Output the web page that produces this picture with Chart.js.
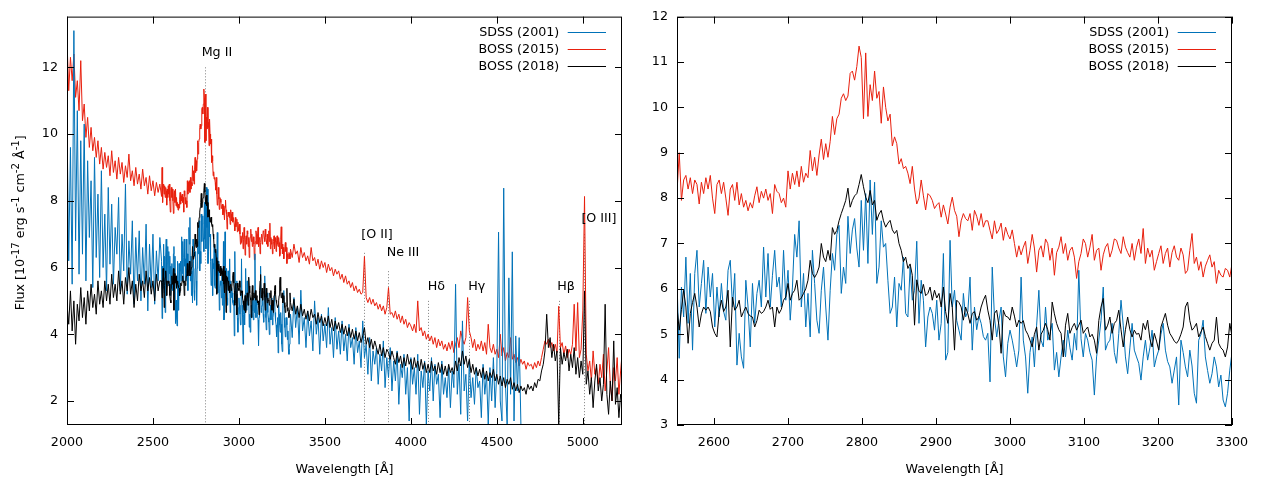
<!DOCTYPE html>
<html><head><meta charset="utf-8">
<script src="https://cdn.jsdelivr.net/npm/chart.js@4.4.1/dist/chart.umd.min.js"></script>
<style>
html,body{margin:0;padding:0;background:#fff;width:1263px;height:490px;overflow:hidden}
canvas{position:absolute;top:0}
#c1{left:0}
#c2{left:632px}
</style></head><body>
<canvas id="c1" width="632" height="490"></canvas>
<canvas id="c2" width="631" height="490"></canvas>
<script>
// ---------------- DATA ----------------
// wavelength grids: [start, step] (Angstrom)
const GRID_A = [2000, 10];
const GRID_B = [2550, 3];
const GRID_C = [3300, 10];

const SERIES_NAMES = ['SDSS (2001)', 'BOSS (2015)', 'BOSS (2018)'];

const RED_A = [12.8,11.3,12.3,11.6,12.4,11.1,11.6,10.7,12.2,10.4,
10.9,9.9,10.5,9.6,10.2,9.5,9.9,9.3,9.8,9.1,
9.6,8.95,9.45,9.0,9.35,8.75,9.5,8.85,9.2,8.65,
9.3,8.8,9.15,8.55,9.05,8.7,9.4,8.6,8.9,8.45,
9.0,8.5,8.8,8.35,8.95,8.45,8.7,8.2,8.75,8.3,
8.6,8.15,8.55,8.25,8.5];
const RED_B = [8.13,9.0,7.95,8.4,8.5,8.2,8.45,8.1,8.4,8.3,
7.87,8.35,8.1,8.45,8.2,8.5,8.0,7.66,8.3,8.4,
8.1,8.35,8.0,7.62,8.2,8.3,7.95,8.35,7.85,8.1,
7.8,7.95,7.72,7.9,7.78,8.05,8.25,7.9,8.15,8.0,
8.2,7.95,8.1,7.66,8.3,8.15,8.1,7.9,8.0,7.8,
8.6,8.2,8.55,8.3,8.6,8.25,8.7,8.35,8.55,8.45,
9.05,8.6,8.9,8.5,8.95,9.3,8.85,9.2,8.9,9.25,
9.8,9.4,9.75,9.85,10.2,10.3,10.15,10.25,10.75,10.8,
10.6,10.9,11.35,11.1,9.75,11.2,9.8,10.5,10.15,10.8,
10.2,10.35,9.65,10.45,10.0,9.7,9.85,9.15,9.35,9.2,
8.75,8.87,8.65,8.7,8.55,8.32,8.7,8.2,7.87,8.0,
8.4,8.05,7.74,8.1,8.05,7.95,7.77,7.85,7.9,7.58,
7.85,7.65,7.43,7.8,8.02,7.73,7.6,7.15,7.5,7.66,
7.55,7.5,7.66,7.29,7.73,7.6,7.4,7.66,7.36,7.5,
7.5,7.29,7.1,7.5,7.22,7.3,7.45,7.07,7.36,7.2,
7.1,7.3,7.0,6.7,6.95,6.75,6.92,7.05,6.56,6.85,
7.2,6.9,6.37,6.85,6.95,6.7,7.1,7.0,6.63,6.9,
6.3,6.8,6.92,7.15,6.78,7.0,6.63,6.85,6.92,6.7,
6.23,6.6,6.78,7.1,7.0,6.7,6.92,7.2,6.63,6.85,
6.9,6.41,6.75,6.92,7.0,6.7,6.85,7.1,7.07,6.9,
6.78,7.15,6.92,6.8,6.7,7.0,6.63,6.92,7.1,6.78,
7.33,6.56,6.9,6.7,6.85,6.41,6.6,6.78,6.95,6.56,
6.78,6.9,6.48,6.8,6.95,6.7,6.63,6.9,6.75,6.34,
6.41,6.85,7.22,6.56,6.7,6.41,6.6,6.26,6.5,6.63,
6.75,6.48,6.6,6.12,6.41,6.3,6.26,6.45,6.41,6.26];
const RED_C = [6.55,6.3,6.7,6.4,6.5,6.15,6.6,6.3,6.45,6.2,
6.35,6.1,6.6,6.2,6.3,6.05,6.25,5.95,6.2,6.0,
6.15,5.85,6.1,5.9,6.0,5.75,5.95,5.8,5.9,5.65,
5.8,5.55,5.75,5.5,5.6,5.4,5.55,5.3,5.45,5.25,
5.35,5.2,5.25,6.33,5.1,4.95,5.1,4.9,5.05,4.85,
4.95,4.75,4.9,4.7,4.85,4.6,4.8,5.4,4.6,4.65,
4.5,4.7,4.45,4.6,4.35,4.55,4.3,4.45,4.2,4.35,
4.25,4.1,4.3,4.05,5.0,4.1,4.2,3.95,4.1,3.85,
4.0,3.8,3.95,3.7,3.9,3.6,3.85,3.65,3.8,3.55,
3.7,3.5,3.75,3.55,3.8,3.45,3.7,3.9,3.6,4.1,
3.85,3.7,3.9,5.1,4.1,3.9,3.6,3.85,3.5,3.7,
3.55,3.8,3.5,3.75,3.4,4.3,3.6,3.45,3.7,3.4,
3.55,3.3,4.0,3.35,3.6,3.2,3.45,3.3,3.9,3.25,
3.4,3.15,3.3,3.05,3.25,3.1,3.2,2.95,3.15,3.05,
3.1,2.95,3.15,3.0,3.2,3.05,3.3,3.55,3.8,3.7,
3.85,3.6,3.75,3.5,3.7,3.45,4.84,3.6,3.75,3.4,
3.65,3.3,3.55,3.4,3.7,4.9,3.5,4.95,3.3,3.55,
4.7,8.13,3.4,2.9,3.2,2.6,3.5,2.8,3.0,2.5,
3.1,2.7,3.4,2.3,2.9,3.6,2.5,2.0,3.0,2.6,
3.3,2.2,2.9,3.5];

const BLUE_A = [10.4,6.2,9.6,5.5,13.1,6.8,10.7,5.8,9.8,6.4,
10.3,5.6,9.2,6.9,8.6,5.4,9.3,6.3,8.2,5.7,
8.9,6.0,7.6,5.3,8.4,6.1,7.9,5.5,7.2,6.4,
8.1,5.3,7.0,5.9,8.5,5.2,6.8,5.8,7.4,4.9,
6.9,5.6,7.1,5.0,6.6,5.5,7.3,4.7,6.7,5.4,
7.0,4.9,6.5,5.6,6.9];
const BLUE_B = [6.19,4.47,6.04,5.38,6.7,5.24,6.34,4.65,6.34,6.85,
5.6,6.12,6.63,5.46,6.48,5.82,6.34,5.16,6.04,5.38,
6.12,5.5,5.31,6.41,6.63,5.6,6.34,4.32,5.02,4.5,
4.25,6.19,5.6,4.72,6.12,5.24,5.9,6.19,5.6,6.92,
5.82,6.78,5.6,6.3,6.85,6.04,6.26,5.6,6.85,5.75,
6.41,5.31,6.04,7.2,6.7,7.5,5.6,6.34,5.16,5.9,
4.94,6.85,6.12,5.31,5.02,5.97,6.48,5.6,4.87,5.97,
6.78,6.41,7.2,7.4,5.9,6.48,6.12,7.6,6.78,7.3,
7.55,6.9,6.48,7.95,6.85,8.1,6.56,8.4,7.2,8.35,
6.12,6.48,7.5,6.92,7.0,6.19,5.46,5.6,6.26,5.16,
6.12,5.97,6.7,5.46,5.38,6.48,5.75,5.97,7.05,5.24,
6.19,5.75,4.72,5.38,5.6,5.46,5.09,5.75,4.87,5.24,
6.78,4.43,4.6,7.07,5.6,5.97,5.3,5.09,4.87,5.9,
5.38,5.5,6.26,4.65,5.6,5.1,5.4,5.24,4.95,4.87,
5.02,3.95,6.48,5.38,4.94,5.3,5.6,4.5,4.06,4.8,
5.09,4.87,4.6,4.28,4.65,6.26,4.87,4.5,3.7,4.6,
4.94,4.28,5.2,5.97,4.87,4.72,5.6,4.87,5.0,5.24,
4.21,4.6,4.06,4.5,4.87,4.5,5.09,4.7,4.43,5.02,
4.65,6.41,4.9,4.5,5.02,4.87,4.6,4.43,3.66,4.5,
4.87,5.3,6.04,4.65,4.8,4.87,5.24,4.6,4.36,5.02,
5.75,5.2,4.5,4.13,4.7,5.24,4.65,4.5,4.36,3.99,
4.5,4.87,4.43,4.7,5.09,4.28,4.5,4.65,5.0,5.24,
4.65,4.4,4.28,3.92,4.21,4.5,3.44,4.87,4.6,4.28,
4.06,4.65,4.3,3.7,3.48,4.87,5.0,5.31,4.5,4.2,
3.92,4.13,4.5,4.28,3.84,4.1,3.55,3.4,3.7,4.21];
const BLUE_C = [4.6,3.9,5.1,4.2,4.8,3.7,5.32,4.1,4.5,3.6,
4.7,3.95,4.4,3.5,5.0,4.0,4.5,3.4,4.6,3.8,
4.3,3.6,4.8,3.7,4.2,3.3,4.5,3.55,4.1,3.4,
4.4,3.5,4.0,3.2,4.3,3.6,3.9,3.1,4.2,3.45,
3.8,3.0,4.4,3.3,3.7,2.8,3.9,2.6,3.5,3.1,
3.6,2.5,3.4,2.9,3.8,2.4,3.3,2.7,3.6,2.3,
3.2,2.6,3.5,1.9,3.1,2.7,3.4,2.2,3.0,1.4,
3.3,2.5,3.0,2.2,3.4,1.6,2.9,2.4,3.2,1.3,
2.9,2.3,3.3,2.0,3.1,2.5,2.8,1.5,3.2,2.2,
2.7,2.1,3.0,1.8,2.9,2.4,5.5,2.2,3.1,1.6,
4.4,2.3,2.8,1.4,3.2,2.1,2.7,1.9,3.0,2.4,
2.6,1.5,3.1,2.2,2.8,1.3,3.0,2.0,3.3,1.8,
2.9,7.06,2.0,1.4,8.38,2.5,1.3,5.69,2.2,6.47,
1.4,3.95,2.3,3.9,1.3];

const BLACK_A = [4.9,4.3,5.3,4.1,5.0,3.7,4.9,4.4,5.4,4.5,
5.1,4.3,5.3,4.7,5.5,4.8,5.2,4.6,5.6,4.9,
5.3,4.8,5.6,5.0,5.5,4.9,5.8,5.1,5.5,5.0,
5.9,5.2,5.6,4.9,5.7,5.3,6.0,5.2,5.6,4.8,
5.5,5.0,5.8,5.3,5.6,5.1,5.9,5.3,5.7,5.2,
5.6,5.0,5.8,5.3,5.6];
const BLACK_B = [5.6,5.09,5.55,5.97,5.6,4.8,5.46,5.7,5.9,5.6,
5.16,5.45,5.6,5.53,5.6,5.5,5.16,5.02,4.94,5.5,
5.75,5.5,5.6,5.97,4.72,5.82,5.53,5.6,5.75,5.38,
5.5,5.6,5.46,5.4,5.38,5.16,5.3,5.53,5.46,5.5,
5.6,5.75,5.55,5.6,5.16,5.6,5.46,5.55,5.75,5.82,
6.12,5.75,5.9,5.97,6.19,5.75,5.8,5.9,6.0,6.19,
6.63,6.34,6.25,6.34,6.48,7.0,6.7,6.6,6.85,6.63,
7.35,7.2,7.29,7.5,7.66,7.8,7.95,8.22,7.8,7.95,
8.05,8.1,8.3,8.52,8.25,8.02,7.9,8.17,7.85,7.95,
7.51,7.65,7.73,7.5,7.36,7.45,7.51,7.3,7.22,7.29,
7.0,6.85,6.6,6.7,6.45,6.55,6.3,5.2,6.2,5.95,
5.9,6.1,5.85,5.9,6.04,5.75,5.97,5.8,5.9,5.6,
6.04,5.5,5.24,5.9,5.6,4.65,5.75,5.7,5.6,5.31,
5.6,5.45,5.24,5.46,5.5,5.31,5.38,5.6,5.75,5.86,
5.53,5.3,4.87,5.46,5.53,5.2,4.58,5.53,5.4,5.38,
5.31,5.6,5.4,5.16,5.31,5.24,5.3,5.09,5.0,4.87,
4.72,5.0,5.16,4.65,5.0,5.09,5.24,5.1,4.87,5.71,
5.45,5.24,5.1,5.02,4.5,5.2,5.46,5.02,5.15,5.24,
5.09,5.2,5.31,5.02,5.1,5.16,4.94,5.0,4.87,4.58,
5.3,5.6,5.79,5.09,5.2,5.38,5.02,5.24,5.3,5.53,
5.1,4.72,5.1,5.38,5.1,4.94,5.09,5.0,5.02,4.87,
5.24,5.1,5.31,4.9,4.72,5.02,4.85,4.65,5.16,5.31,
5.46,5.2,5.02,4.94,4.85,4.8,4.87,5.0,5.16,5.6,
5.71,5.3,5.09,5.15,5.24,4.94,5.05,5.16,4.95,4.8,
4.65,4.8,4.87,5.38,4.8,4.7,4.65,4.5,4.72,5.24];
const BLACK_C = [4.95,4.7,5.05,4.6,4.85,4.5,4.9,4.55,4.75,4.45,
4.7,4.4,4.75,4.5,4.6,4.3,4.65,4.35,4.55,4.25,
4.5,4.25,4.55,4.2,4.45,4.1,4.4,4.15,4.35,4.05,
4.3,4.0,4.25,3.95,4.2,3.9,4.15,3.85,4.1,3.8,
4.05,3.75,3.95,4.2,3.7,3.9,3.6,3.85,3.55,3.8,
3.6,3.4,3.7,3.35,3.6,3.3,3.55,3.45,3.25,3.5,
3.3,3.1,3.45,3.15,3.35,3.0,3.3,3.05,3.4,3.1,
3.25,2.95,3.3,3.0,3.2,2.9,3.25,2.95,3.15,2.85,
3.1,2.85,3.2,2.9,3.05,2.8,3.15,2.85,3.1,2.8,
3.05,2.75,3.1,2.85,3.0,2.8,3.2,2.9,3.3,3.05,
3.5,3.1,3.35,3.0,3.25,2.85,3.1,2.8,3.0,2.75,
2.95,2.7,3.0,2.65,2.9,2.6,2.85,2.7,2.95,2.6,
2.8,2.5,2.75,2.45,2.7,2.4,2.65,2.5,2.7,2.35,
2.55,2.3,2.5,2.25,2.45,2.3,2.4,2.2,2.5,2.35,
2.45,2.3,2.55,2.4,2.65,2.6,2.9,3.1,3.5,4.6,
3.6,3.9,3.3,3.7,3.2,3.5,1.3,3.6,3.1,3.45,
3.2,3.55,2.9,3.4,3.0,3.6,2.8,3.3,2.7,3.2,
2.8,5.3,2.5,2.9,2.2,2.7,1.8,2.6,3.1,2.3,
2.7,2.0,2.5,4.9,2.2,1.6,2.6,2.0,3.8,1.9,
2.4,1.5,2.2,1.9];

// tick labels
const LEFT_X_TICKS = [2000,2500,3000,3500,4000,4500,5000];
const LEFT_Y_TICKS = [2,4,6,8,10,12];
const RIGHT_X_TICKS = [2600,2700,2800,2900,3000,3100,3200,3300];
const RIGHT_Y_TICKS = [3,4,5,6,7,8,9,10,11,12];

// emission line annotations (left panel)
const LINE_NAMES  = ['Mg II','[O II]','Ne III','H\u03b4','H\u03b3','H\u03b2','[O III]'];
const LINE_WAVES  = [2800,3727,3869,4102,4340,4861,5007];
const LINE_TOPS   = [12.0,6.44,5.89,5.0,5.0,5.0,7.0];
const LABEL_WAVES = [2872,3803,3954,4148,4383,4902,5094];
const LABEL_VALS  = [12.35,6.89,6.34,5.32,5.32,5.32,7.35];

// ---------------- STYLE ----------------
const FAM = '"DejaVu Sans", sans-serif';
const FS = 12.7;
const BLUE = '#0072b8';
const RED = '#e8200e';
const BLACK = '#000000';
const TXT = '#000000';

function buildSeries(a, b, c) {
  const pts = [];
  a.forEach((v, i) => pts.push({x: GRID_A[0] + GRID_A[1] * i, y: v}));
  b.forEach((v, i) => pts.push({x: GRID_B[0] + GRID_B[1] * i, y: v}));
  c.forEach((v, i) => pts.push({x: GRID_C[0] + GRID_C[1] * i, y: v}));
  return pts;
}
const BLUE_PTS = buildSeries(BLUE_A, BLUE_B, BLUE_C);
const RED_PTS = buildSeries(RED_A, RED_B, RED_C);
const BLACK_PTS = buildSeries(BLACK_A, BLACK_B, BLACK_C);

function ds(label, data, color) {
  return {label, data, borderColor: color, backgroundColor: color, borderWidth: 1,
    pointRadius: 0, pointHoverRadius: 0, fill: false, tension: 0, clip: 0, parsing: false, normalized: true};
}

function decor(opts) {
  return {
    id: 'decor',
    beforeDatasetsDraw(chart) {
      const ctx = chart.ctx, xs = chart.scales.x, ys = chart.scales.y, a = chart.chartArea;
      if (opts.lines) {
        ctx.save();
        ctx.beginPath(); ctx.rect(a.left, a.top, a.right - a.left, a.bottom - a.top); ctx.clip();
        ctx.strokeStyle = '#808080'; ctx.lineWidth = 1; ctx.setLineDash([1, 2]);
        LINE_WAVES.forEach((w, i) => {
          const x = Math.round(xs.getPixelForValue(w)) + 0.5;
          ctx.beginPath(); ctx.moveTo(x, ys.getPixelForValue(LINE_TOPS[i])); ctx.lineTo(x, a.bottom); ctx.stroke();
        });
        ctx.restore();
      }
    },
    afterDatasetsDraw(chart) {
      const ctx = chart.ctx, xs = chart.scales.x, ys = chart.scales.y, a = chart.chartArea;
      ctx.save();
      ctx.strokeStyle = '#000'; ctx.lineWidth = 1; ctx.setLineDash([]);
      // frame
      ctx.strokeRect(a.left + 0.5, a.top + 0.5, a.right - a.left - 1, a.bottom - a.top - 1);
      // inward ticks on all sides
      const TL = 7;
      ctx.beginPath();
      opts.xTicks.forEach(v => {
        const x = Math.round(xs.getPixelForValue(v)) + 0.5;
        ctx.moveTo(x, a.bottom); ctx.lineTo(x, a.bottom - TL);
        ctx.moveTo(x, a.top); ctx.lineTo(x, a.top + TL);
      });
      opts.yTicks.forEach(v => {
        const y = Math.round(ys.getPixelForValue(v)) + 0.5;
        ctx.moveTo(a.left, y); ctx.lineTo(a.left + TL, y);
        ctx.moveTo(a.right, y); ctx.lineTo(a.right - TL, y);
      });
      ctx.stroke();
      ctx.fillStyle = TXT;
      ctx.font = FS + 'px ' + FAM;
      // line labels
      if (opts.lines) {
        ctx.textAlign = 'center'; ctx.textBaseline = 'alphabetic';
        LINE_NAMES.forEach((n, i) => {
          ctx.fillText(n, xs.getPixelForValue(LABEL_WAVES[i]), ys.getPixelForValue(LABEL_VALS[i]));
        });
      }
      // legend
      const cols = [BLUE, RED, BLACK];
      SERIES_NAMES.forEach((n, i) => {
        const yc = a.top + 15.7 + 17 * i;
        ctx.textAlign = 'right'; ctx.textBaseline = 'middle';
        ctx.fillStyle = TXT;
        ctx.fillText(n, a.right - 62.7, yc + 0.8);
        ctx.strokeStyle = cols[i]; ctx.lineWidth = 1;
        ctx.beginPath();
        ctx.moveTo(a.right - 54.3, Math.round(yc) + 0.5); ctx.lineTo(a.right - 16, Math.round(yc) + 0.5);
        ctx.stroke();
      });
      // x title
      ctx.fillStyle = TXT;
      ctx.textAlign = 'center'; ctx.textBaseline = 'alphabetic';
      ctx.fillText('Wavelength [\u00c5]', (a.left + a.right) / 2, 473);
      // y title with superscripts
      if (opts.yTitle) {
        const runs = [['Flux [10', 0], ['-17', 1], [' erg s', 0], ['-1', 1], [' cm', 0], ['-2', 1], [' \u00c5', 0], ['-1', 1], [']', 0]];
        const fMain = FS + 'px ' + FAM, fSup = (FS * 0.8) + 'px ' + FAM;
        let total = 0;
        runs.forEach(r => { ctx.font = r[1] ? fSup : fMain; total += ctx.measureText(r[0]).width; });
        ctx.translate(24, (a.top + a.bottom) / 2 + 2);
        ctx.rotate(-Math.PI / 2);
        ctx.textAlign = 'left';
        let x = -total / 2;
        runs.forEach(r => {
          ctx.font = r[1] ? fSup : fMain;
          ctx.fillText(r[0], x, r[1] ? -FS * 0.4 : 0);
          x += ctx.measureText(r[0]).width;
        });
      }
      ctx.restore();
    }
  };
}

function makeChart(id, cfg) {
  const xTicks = cfg.xTicks, yTicks = cfg.yTicks;
  return new Chart(document.getElementById(id), {
    type: 'line',
    data: {datasets: [ds(SERIES_NAMES[2], BLACK_PTS, BLACK), ds(SERIES_NAMES[0], BLUE_PTS, BLUE), ds(SERIES_NAMES[1], RED_PTS, RED)]},
    options: {
      responsive: false, animation: false, events: [],
      layout: {padding: {left: 0, right: cfg.padRight, top: 16, bottom: 0}},
      plugins: {legend: {display: false}, tooltip: {enabled: false}, title: {display: false}},
      scales: {
        x: {type: 'linear', min: cfg.xmin, max: cfg.xmax,
          afterBuildTicks: s => { s.ticks = xTicks.map(v => ({value: v})); },
          afterFit: s => { s.height = 65; },
          grid: {display: false, drawTicks: false}, border: {display: false},
          ticks: {padding: 10, color: TXT, font: {family: FAM, size: FS}, maxRotation: 0, minRotation: 0, autoSkip: false, callback: v => String(v)}},
        y: {type: 'linear', min: cfg.ymin, max: cfg.ymax,
          afterBuildTicks: s => { s.ticks = yTicks.map(v => ({value: v})); },
          afterFit: s => { s.width = cfg.yWidth; },
          grid: {display: false, drawTicks: false}, border: {display: false},
          ticks: {padding: 9, color: TXT, font: {family: FAM, size: FS}, autoSkip: false, callback: v => String(v)}}
      }
    },
    plugins: [decor({xTicks, yTicks, lines: cfg.lines, yTitle: cfg.yTitle})]
  });
}

makeChart('c1', {xmin: 2000, xmax: 5228, ymin: 1.28, ymax: 13.52, xTicks: LEFT_X_TICKS, yTicks: LEFT_Y_TICKS, padRight: 10, yWidth: 67, lines: true, yTitle: true});
makeChart('c2', {xmin: 2550, xmax: 3300, ymin: 3, ymax: 12, xTicks: RIGHT_X_TICKS, yTicks: RIGHT_Y_TICKS, padRight: 31, yWidth: 45, lines: false, yTitle: false});
</script>
</body></html>
